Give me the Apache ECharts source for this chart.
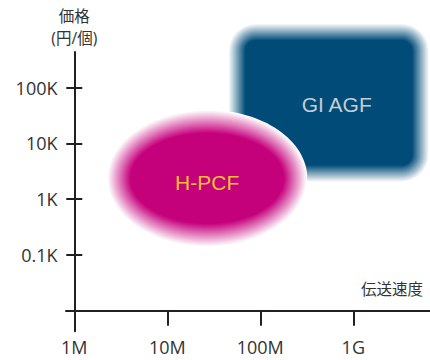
<!DOCTYPE html>
<html><head><meta charset="utf-8">
<script src="https://cdn.jsdelivr.net/npm/echarts@6/dist/echarts.min.js"></script>
<style>html,body{margin:0;padding:0;background:#fff}#c{width:430px;height:360px}</style>
</head><body><div id="c"></div>
<script>
// ---- data ----
const xTickValues = [1e6, 1e7, 1e8, 1e9];          // 伝送速度 (bps)
const xTickLabels = ['1M', '10M', '100M', '1G'];
const yTickValues = [100, 1000, 10000, 100000];    // 価格 (円/個)
const yTickLabels = ['0.1K', '1K', '10K', '100K'];
const blobNames = ['GI AGF', 'H-PCF'];
const blobShapes = ['roundRect', 'ellipse'];
const speedLow  = [4.5e7, 2.25e6];
const speedHigh = [6.6e9, 3.2e8];
const priceLow  = [2000, 139];
const priceHigh = [1.45e6, 4.0e4];

// ---- helpers ----
const X0 = 6, Y0 = 1;            // axes cross at 1M and 10円
const lx = v => Math.log10(v) - X0;
const ly = v => Math.log10(v) - Y0;
const FONT = "'Open Sans','Noto Sans CJK JP',sans-serif";
const AX = '#231f20', LC = '#333333';
const blobColor = { roundRect: [0, 75, 120], ellipse: [197, 0, 123] };
const blobText = { roundRect: '#c9cdd1', ellipse: '#f2c230' };
const glowPx = { roundRect: 17, ellipse: 23 };
const labelDx = { roundRect: 8, ellipse: 0 };
const labelDy = { roundRect: 2, ellipse: 4 };

function mix(c, t) { // t=1 -> base color, t=0 -> white
  const r = Math.round(255 + (c[0] - 255) * t);
  const g = Math.round(255 + (c[1] - 255) * t);
  const b = Math.round(255 + (c[2] - 255) * t);
  return 'rgb(' + r + ',' + g + ',' + b + ')';
}
function findLabel(v, vals, labels) {
  for (let i = 0; i < vals.length; i++) if (Math.abs(v - vals[i]) < 1e-6) return labels[i];
  return '';
}

function renderItem(params, api) {
  const i = params.dataIndex;
  const p1 = api.coord([api.value(0), api.value(3)]);
  const p2 = api.coord([api.value(1), api.value(2)]);
  const x1 = p1[0], y1 = p1[1], x2 = p2[0], y2 = p2[1];
  const kind = blobShapes[i];
  const glow = glowPx[kind];
  const base = blobColor[kind];
  const cx = (x1 + x2) / 2, cy = (y1 + y2) / 2;
  const children = [];
  const N = glow;
  for (let k = 0; k <= N; k++) {
    const inset = glow * k / N;
    const t = k / N;
    const fill = mix(base, t);
    if (kind === 'ellipse') {
      children.push({ type: 'ellipse', shape: { cx: cx, cy: cy, rx: (x2 - x1) / 2 - inset, ry: (y2 - y1) / 2 - inset }, style: { fill: fill } });
    } else {
      children.push({ type: 'rect', shape: { x: x1 + inset, y: y1 + inset, width: x2 - x1 - 2 * inset, height: y2 - y1 - 2 * inset, r: Math.max(28 - inset, 8) }, style: { fill: fill } });
    }
  }
  children.push({ type: 'text', style: { text: blobNames[i], x: cx + labelDx[kind], y: cy + labelDy[kind], align: 'center', verticalAlign: 'middle', fill: blobText[kind], font: "21px 'Liberation Sans', Arial, sans-serif" } });
  return { type: 'group', children: children };
}

const chart = echarts.init(document.getElementById('c'), null, { renderer: 'svg' });
const option = {
  animation: false,
  textStyle: { fontFamily: FONT },
  grid: { left: 66, right: 0, top: 52, bottom: 28.7, containLabel: false, outerBoundsMode: 'none' },
  xAxis: {
    type: 'value', min: -0.089, max: 3.825,
    axisLine: { onZero: true, onZeroAxisIndex: 0, lineStyle: { color: AX, width: 2 } },
    axisTick: { customValues: xTickValues.map(lx), length: 15, lineStyle: { color: AX, width: 2 } },
    axisLabel: { customValues: xTickValues.map(lx), formatter: v => findLabel(v, xTickValues.map(lx), xTickLabels), margin: 8, fontSize: 18, lineHeight: 16, color: LC, fontFamily: FONT },
    splitLine: { show: false },
    name: '伝送速度', nameLocation: 'end', nameGap: -7,
    nameTextStyle: { align: 'right', verticalAlign: 'bottom', padding: [0, 0, 14, 0], fontSize: 15.5, color: LC, fontFamily: FONT }
  },
  yAxis: [{
    type: 'value', min: -0.37, max: 4.64,
    axisLine: { onZero: true, onZeroAxisIndex: 0, lineStyle: { color: AX, width: 2 } },
    axisTick: { customValues: yTickValues.map(ly), length: 8, lineStyle: { color: AX, width: 2 } },
    axisLabel: { customValues: yTickValues.map(ly), formatter: v => findLabel(v, yTickValues.map(ly), yTickLabels), margin: 8.5, fontSize: 18, color: LC, fontFamily: FONT },
    splitLine: { show: false },
    name: '価格\n(円/個)', nameLocation: 'end', nameGap: 3,
    nameTextStyle: { align: 'center', verticalAlign: 'bottom', lineHeight: 22, fontSize: 15.5, color: LC, fontFamily: FONT }
  }, {
    type: 'value', min: -0.37, max: 4.64, position: 'left',
    axisLine: { show: false, onZero: true, onZeroAxisIndex: 0 },
    axisTick: { inside: true, customValues: yTickValues.map(ly), length: 8, lineStyle: { color: AX, width: 2 } },
    axisLabel: { show: false },
    splitLine: { show: false }
  }],
  series: [{
    type: 'custom', renderItem: renderItem, clip: false, z: 1,
    encode: { x: [0, 1], y: [2, 3] },
    data: blobNames.map((n, i) => [lx(speedLow[i]), lx(speedHigh[i]), ly(priceLow[i]), ly(priceHigh[i])])
  }]
};
chart.setOption(option);
</script>
</body></html>
